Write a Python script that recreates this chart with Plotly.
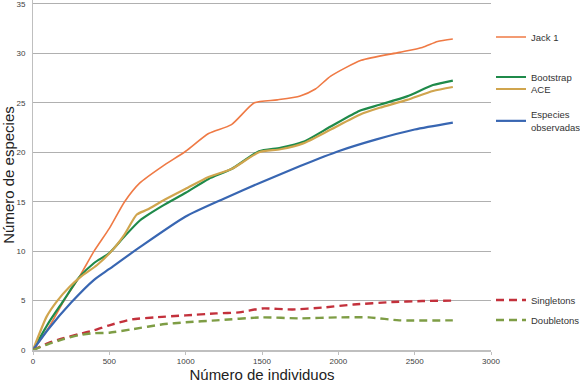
import plotly.graph_objects as go

# Data
jack_x = [0, 100, 200, 300, 400, 500, 600, 700, 850, 1000, 1150, 1300, 1450, 1600, 1750, 1850, 1950, 2150, 2400, 2550, 2650, 2750]
jack_y = [0, 2.2, 4.9, 7.3, 10.0, 12.3, 15.0, 16.9, 18.6, 20.1, 21.9, 22.8, 25.0, 25.3, 25.7, 26.4, 27.7, 29.3, 30.1, 30.6, 31.2, 31.45]

boot_x = [0, 100, 200, 300, 400, 500, 600, 700, 850, 1000, 1150, 1300, 1480, 1620, 1770, 1950, 2140, 2270, 2450, 2620, 2750]
boot_y = [0, 2.7, 5.0, 7.3, 8.8, 9.8, 11.5, 13.1, 14.6, 15.9, 17.3, 18.3, 20.1, 20.45, 21.05, 22.6, 24.2, 24.8, 25.65, 26.8, 27.25]

ace_x = [0, 90, 155, 240, 320, 420, 520, 600, 680, 750, 850, 1000, 1150, 1300, 1480, 1620, 1770, 1950, 2140, 2270, 2450, 2620, 2750]
ace_y = [0, 3.4, 4.9, 6.4, 7.5, 8.6, 10.1, 11.7, 13.7, 14.2, 15.1, 16.3, 17.5, 18.3, 20.0, 20.3, 20.9, 22.3, 23.8, 24.5, 25.3, 26.2, 26.6]

obs_x = [0, 100, 250, 400, 500, 700, 1000, 1250, 1500, 1750, 2000, 2250, 2500, 2750]
obs_y = [0, 2.1, 4.8, 7.1, 8.2, 10.4, 13.5, 15.3, 17.0, 18.6, 20.1, 21.3, 22.3, 23.0]

single_x = [0, 100, 200, 300, 400, 500, 650, 800, 1000, 1200, 1350, 1500, 1700, 1900, 2100, 2350, 2550, 2750]
single_y = [0, 0.7, 1.2, 1.6, 2.0, 2.5, 3.1, 3.3, 3.5, 3.7, 3.8, 4.2, 4.1, 4.3, 4.6, 4.85, 4.95, 5.0]

double_x = [0, 100, 200, 300, 400, 500, 650, 850, 1000, 1200, 1500, 1750, 2000, 2200, 2400, 2750]
double_y = [0, 0.6, 1.1, 1.5, 1.7, 1.75, 2.1, 2.6, 2.8, 3.0, 3.3, 3.2, 3.3, 3.3, 3.0, 3.0]

x_ticks = [0, 500, 1000, 1500, 2000, 2500, 3000]
y_ticks = [0, 5, 10, 15, 20, 25, 30, 35]

H = 383
PT, PB = 0, 350  # plot top / bottom in pixels
YMAX = 35.4


def ypaper(py):
    return (PB - py) / (PB - PT)


series = [
    ("Jack 1", jack_x, jack_y, "#EF7A45", 1.6, "solid", "legend", 37),
    ("Bootstrap", boot_x, boot_y, "#1F8A4A", 2.2, "solid", "legend2", 77),
    ("ACE", ace_x, ace_y, "#D0A54E", 2.2, "solid", "legend3", 89),
    ("Especies<br>observadas", obs_x, obs_y, "#3866B2", 2.2, "solid", "legend4", 121),
    ("Singletons", single_x, single_y, "#C3313C", 2.4, "8px,5px", "legend5", 300),
    ("Doubletons", double_x, double_y, "#7E9D45", 2.4, "8px,5px", "legend6", 320),
]

fig = go.Figure()
legend_layouts = {}
for name, xs, ys, color, w, dash, lg, ly in series:
    fig.add_trace(go.Scatter(
        x=xs, y=ys, mode="lines", name=name,
        line=dict(color=color, width=w, dash=dash, shape="spline", smoothing=0.6),
        legend=lg, showlegend=True,
    ))
    legend_layouts[lg] = dict(
        x=1.0, xanchor="left", y=ypaper(ly), yanchor="middle",
        font=dict(family="Liberation Sans, Arial", size=9.5, color="#333333"),
        bgcolor="rgba(0,0,0,0)", borderwidth=0, itemwidth=30,
        tracegroupgap=0,
    )

fig.update_layout(
    width=580, height=H,
    margin=dict(l=33, r=89, t=PT, b=H - PB, autoexpand=False),
    plot_bgcolor="white", paper_bgcolor="white",
    font=dict(family="Liberation Sans, Arial", color="#404040"),
    **legend_layouts,
)

fig.update_xaxes(
    range=[0, 3000], tickvals=x_ticks, ticktext=[str(v) for v in x_ticks],
    showgrid=False, zeroline=False, automargin=False,
    showline=True, linecolor="#BFBFBF", linewidth=1.5,
    ticks="outside", ticklen=3, tickcolor="#BFBFBF",
    tickfont=dict(size=8, color="#404040"),
    title=dict(text="Número de individuos", font=dict(size=15, color="#222222"), standoff=2),
)
fig.update_yaxes(
    range=[0, YMAX], tickvals=y_ticks, ticktext=[str(v) for v in y_ticks],
    showgrid=True, gridcolor="#B0B0B0", gridwidth=1.2, zeroline=False, automargin=False,
    showline=True, linecolor="#BFBFBF", linewidth=1,
    ticks="", ticklabelstandoff=5, ticklabeloverflow="allow",
    tickfont=dict(size=8, color="#404040"),
    title=dict(text="Número de especies", font=dict(size=15, color="#222222"), standoff=2),
)

fig.write_html("out.html", config={"displayModeBar": False},
               post_script="document.body.style.margin='0';")
